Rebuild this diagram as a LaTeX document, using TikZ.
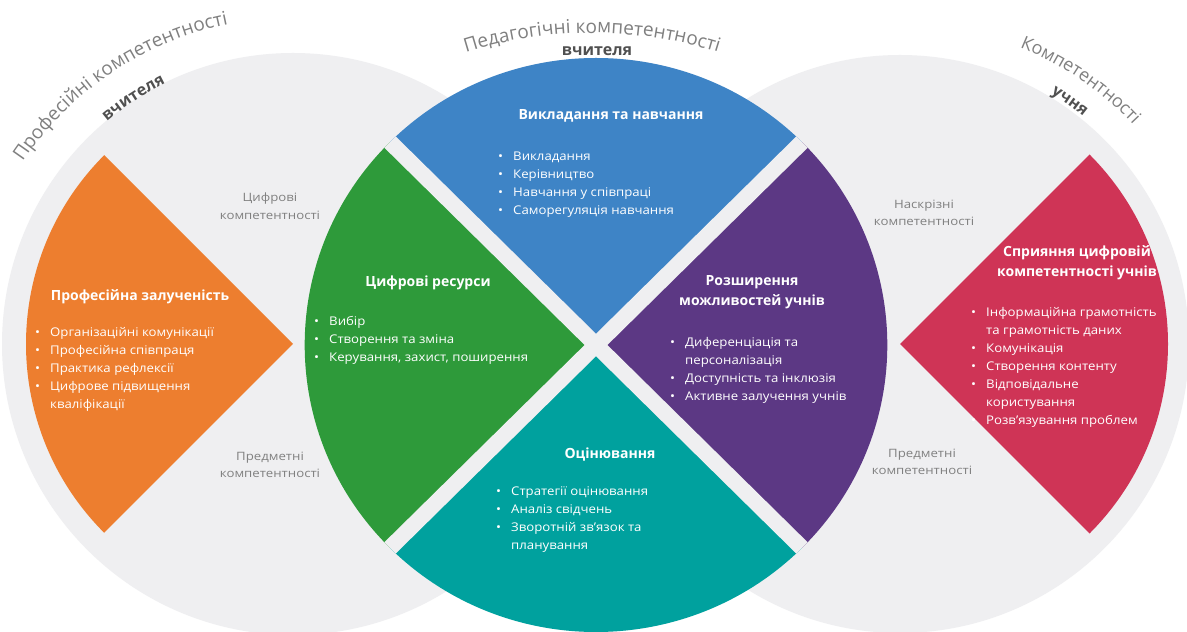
\documentclass[tikz,border=0pt]{standalone}
\usepackage{fontspec}
\setmainfont{Open Sans}
\newfontfamily\listfont[FakeStretch=1.1]{Open Sans}
\newfontfamily\sidefont[FakeStretch=1.15]{Open Sans}
\usetikzlibrary{decorations.text}
\definecolor{bggray}{RGB}{239,239,241}
\definecolor{corange}{RGB}{237,126,47}
\definecolor{cgreen}{RGB}{46,154,58}
\definecolor{cblue}{RGB}{62,132,198}
\definecolor{cpurple}{RGB}{92,56,132}
\definecolor{cteal}{RGB}{0,161,158}
\definecolor{cred}{RGB}{207,52,86}
\definecolor{lblgray}{RGB}{128,128,128}
\definecolor{dkgray}{RGB}{80,80,80}
\newcommand\blt{\makebox[15pt][l]{\textbullet}}
\newcommand\nob{\makebox[15pt][l]{}}
\begin{document}
\begin{tikzpicture}[x=1pt,y=1pt,
  secttitle/.style={text=white, font=\fontsize{14}{20}\selectfont\bfseries, align=center, inner sep=0pt},
  blist/.style={text=white, font=\listfont\fontsize{12}{18}\selectfont, anchor=base west, inner sep=0pt},
  sidelabel/.style={text=lblgray, font=\sidefont\fontsize{11.5}{17.5}\selectfont, align=center, inner sep=0pt},
  gapline/.style={draw=bggray, line width=16pt},
]
\useasboundingbox (0,0) rectangle (1187,632);
\fill[white] (0,0) rectangle (1187,632);
\coordinate (L) at (293,288);
\coordinate (R) at (900,288);
\coordinate (C) at (596,287);
\coordinate (T) at (592,179);
% background circles
\fill[bggray] (L) circle[radius=291];
\fill[bggray] (R) circle[radius=289];
\fill[bggray] (C) circle[radius=287];
% side sectors
\fill[corange] (L) -- ([shift={(135:267)}]L) arc[start angle=135, end angle=225, radius=267] -- cycle;
\fill[cred] (R) -- ([shift={(-45:268)}]R) arc[start angle=-45, end angle=45, radius=268] -- cycle;
% central sectors
\begin{scope}[shift={(C)}, xscale=1.015]
\fill[cblue] (0,0) -- (45:287) arc[start angle=45, end angle=135, radius=287] -- cycle;
\fill[cgreen] (0,0) -- (135:287) arc[start angle=135, end angle=225, radius=287] -- cycle;
\fill[cteal] (0,0) -- (225:287) arc[start angle=225, end angle=315, radius=287] -- cycle;
\fill[cpurple] (0,0) -- (-45:287) arc[start angle=-45, end angle=45, radius=287] -- cycle;
\clip (0,0) circle[radius=287];
\draw[gapline] (135:300) -- (-45:300);
\draw[gapline] (45:300) -- (225:300);
\end{scope}
% curved titles
\path[decorate, decoration={text along path, text align=left,
  text={|\fontsize{19}{19}\selectfont\color{lblgray}|Професійні компетентності}}]
  ([shift={(146:326)}]L) arc[start angle=146, end angle=88, radius=326];
\path[decorate, decoration={text along path, text align=center,
  text={|\fontsize{16}{16}\selectfont\bfseries\color{dkgray}|вчителя}}]
  ([shift={(140:290)}]L) arc[start angle=140, end angle=106, radius=290];
\path[decorate, decoration={text along path, text align=center,
  text={|\fontsize{19}{19}\selectfont\color{lblgray}|Педагогічні компетентності}}]
  ([shift={(112:420)}]T) arc[start angle=112, end angle=68, radius=420];
\node[font=\fontsize{16}{16}\selectfont\bfseries, text=dkgray] (ped2) at (597,581) {вчителя};
\path[decorate, decoration={text along path, text align=left,
  text={|\fontsize{18}{18}\selectfont\color{lblgray}|Компетентності}}]
  ([shift={(68:320)}]R) arc[start angle=68, end angle=20, radius=320];
\path[decorate, decoration={text along path, text align=center,
  text={|\fontsize{16}{16}\selectfont\bfseries\color{dkgray}|учня}}]
  ([shift={(70:292)}]R) arc[start angle=70, end angle=40, radius=292];
% orange
\node[secttitle] (ot) at (140,335) {Професійна залученість};
\node[blist] (ol) at (35,295) {\begin{tabular}[t]{@{}l@{}}
\blt Організаційні комунікації\\
\blt Професійна співпраця\\
\blt Практика рефлексії\\
\blt Цифрове підвищення\\
\nob кваліфікації\end{tabular}};
% green
\node[secttitle] (gt) at (428,349) {Цифрові ресурси};
\node[blist] (gl) at (314,306) {\begin{tabular}[t]{@{}l@{}}
\blt Вибір\\
\blt Створення та зміна\\
\blt Керування, захист, поширення\end{tabular}};
% blue
\node[secttitle] (bt) at (611,516) {Викладання та навчання};
\node[blist] (bl) at (498,471) {\begin{tabular}[t]{@{}l@{}}
\blt Викладання\\
\blt Керівництво\\
\blt Навчання у співпраці\\
\blt Саморегуляція навчання\end{tabular}};
% purple
\node[secttitle] (pt) at (752,340) {Розширення\\можливостей учнів};
\node[blist] (pl) at (670,285) {\begin{tabular}[t]{@{}l@{}}
\blt Диференціація та\\
\nob персоналізація\\
\blt Доступність та інклюзія\\
\blt Активне залучення учнів\end{tabular}};
% teal
\node[secttitle] (tt) at (610,177) {Оцінювання};
\node[blist] (tl) at (496,136) {\begin{tabular}[t]{@{}l@{}}
\blt Стратегії оцінювання\\
\blt Аналіз свідчень\\
\blt Зворотній зв’язок та\\
\nob планування\end{tabular}};
% red
\node[secttitle] (rt) at (1077,369) {Сприяння цифровій\\компетентності учнів};
\node[blist] (rl) at (971,315) {\begin{tabular}[t]{@{}l@{}}
\blt Інформаційна грамотність\\
\nob та грамотність даних\\
\blt Комунікація\\
\blt Створення контенту\\
\blt Відповідальне\\
\nob користування\\
\blt Розв’язування проблем\end{tabular}};
% side labels
\node[sidelabel] (s1) at (270,426) {Цифрові\\компетентності};
\node[sidelabel] (s2) at (270,167) {Предметні\\компетентності};
\node[sidelabel] (s3) at (924,419) {Наскрізні\\компетентності};
\node[sidelabel] (s4) at (922,170) {Предметні\\компетентності};
\end{tikzpicture}
\end{document}
